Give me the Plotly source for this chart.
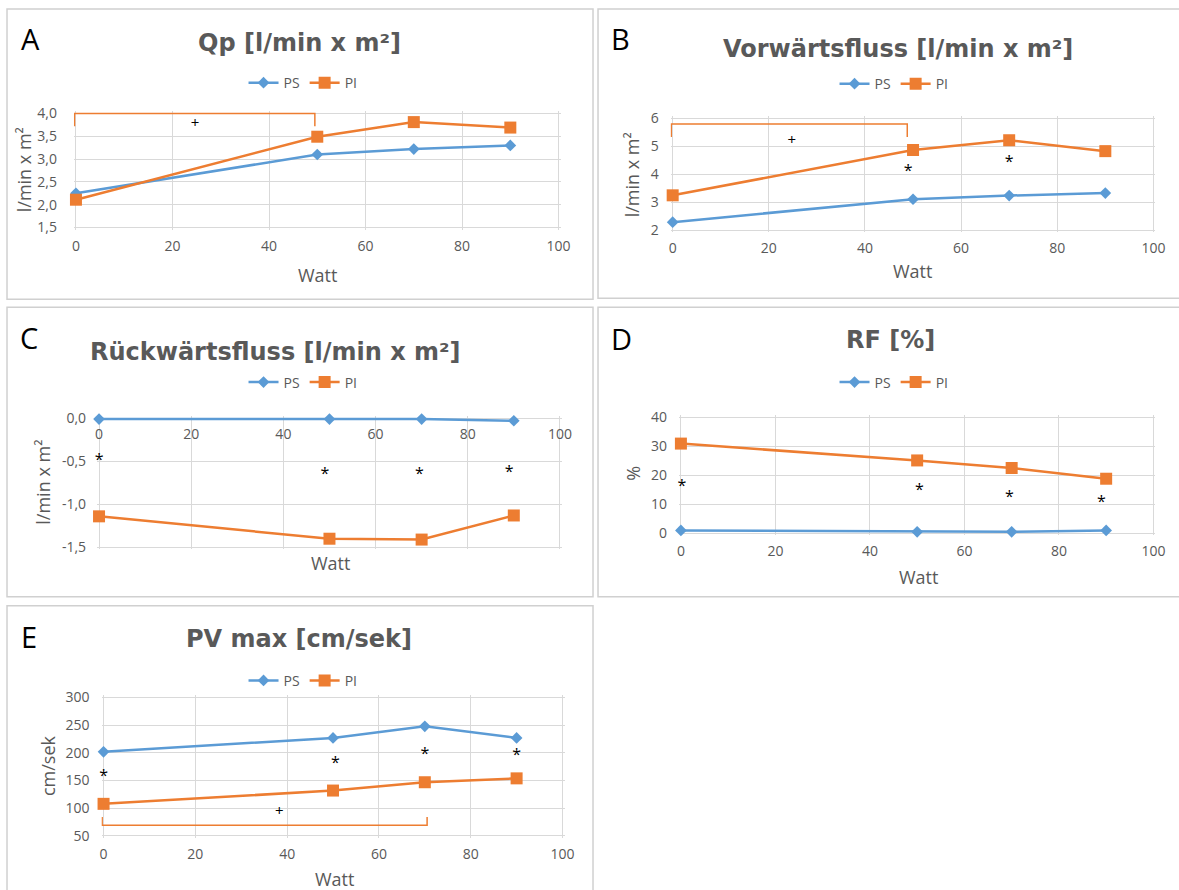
import plotly.graph_objects as go

# ---------------------------------------------------------------- data
WATT = [0, 50, 70, 90]

QP_PS = [2.25, 3.10, 3.22, 3.30]
QP_PI = [2.11, 3.49, 3.81, 3.69]

VF_PS = [2.29, 3.11, 3.24, 3.33]
VF_PI = [3.25, 4.87, 5.22, 4.83]

RUECK_PS = [-0.01, -0.01, -0.01, -0.03]
RUECK_PI = [-1.14, -1.40, -1.41, -1.13]

RF_PS = [1.0, 0.5, 0.5, 1.0]
RF_PI = [30.9, 25.1, 22.5, 18.8]

PV_PS = [202, 227, 248, 227]
PV_PI = [108, 132, 147, 154]

# significance marks (*): PS vs PI at the same load
VF_STAR_X = [49, 70]
VF_STAR_Y = [4.07, 4.39]
RUECK_STAR_X = [0, 49, 69.5, 89]
RUECK_STAR_Y = [-0.5, -0.655, -0.655, -0.636]
RF_STAR_X = [0.2, 50.5, 69.5, 89]
RF_STAR_Y = [15.9, 14.7, 12.2, 10.5]
PV_STAR_X = [0, 50.5, 70, 90]
PV_STAR_Y = [157, 180, 197, 194]

# brackets (+): load effect within PI -> [x_start, x_end], [bar level, foot level]
QP_BRACKET_X = [-0.3, 49.5]
QP_BRACKET_Y = [4.0, 3.72]
QP_PLUS = [24.7, 3.76]
VF_BRACKET_X = [-0.3, 48.8]
VF_BRACKET_Y = [5.80, 5.34]
VF_PLUS = [24.8, 5.2]
PV_BRACKET_X = [-0.3, 70.5]
PV_BRACKET_Y = [69.3, 84.3]
PV_PLUS = [38.3, 92]

QP_YTICKS = [1.5, 2.0, 2.5, 3.0, 3.5, 4.0]
VF_YTICKS = [2, 3, 4, 5, 6]
RUECK_YTICKS = [0.0, -0.5, -1.0, -1.5]
RF_YTICKS = [0, 10, 20, 30, 40]
PV_YTICKS = [50, 100, 150, 200, 250, 300]
X_TICKS = [0, 20, 40, 60, 80, 100]

# ---------------------------------------------------------------- geometry
# figure size, and how layout pixels (below) sit on the figure
W, H = 1195, 906
CX, CY = 4.0, 8.0
KX, KY = 0.9866, 0.9823

BLUE = "#5B9BD5"
ORANGE = "#ED7D31"
GRID = "#D9D9D9"
TXT = "#595959"
FONT = "Open Sans"
TITLE_FONT = "DejaVu Sans"
PAD = 2  # px of breathing room around each plot frame


def fx(px):
    return ((px - CX) / KX) / W


def fy(py):
    return 1 - ((py - CY) / KY) / H


def fmt_de(v, dec):
    return f"{v:.{dec}f}".replace(".", ",")


panels = [
    dict(letter="A", title="Qp [l/min x m²]", ytitle="l/min x m²",
         ps=QP_PS, pi=QP_PI, yticks=QP_YTICKS, ydec=1,
         box=(9, 9, 593, 299), plot=(77.7, 113.3, 558.7, 227.3),
         letter_xy=(32, 38), title_xy=(300, 43), legend_xy=(304, 83),
         ytitle_xy=(26, 170), xtitle_xy=(318, 275), ystand=18,
         stars=None, bracket=(QP_BRACKET_X, QP_BRACKET_Y, QP_PLUS)),
    dict(letter="B", title="Vorwärtsfluss [l/min x m²]", ytitle="l/min x m²",
         ps=VF_PS, pi=VF_PI, yticks=VF_YTICKS, ydec=0,
         box=(598, 9, 1178, 298), plot=(672.4, 118.3, 1151.5, 230),
         letter_xy=(620, 38), title_xy=(897, 49), legend_xy=(893, 84),
         ytitle_xy=(632, 175), xtitle_xy=(911, 271), ystand=13,
         stars=(VF_STAR_X, VF_STAR_Y), bracket=(VF_BRACKET_X, VF_BRACKET_Y, VF_PLUS)),
    dict(letter="C", title="Rückwärtsfluss [l/min x m²]", ytitle="l/min x m²",
         ps=RUECK_PS, pi=RUECK_PI, yticks=RUECK_YTICKS, ydec=1,
         box=(9, 307, 593, 596), plot=(100.7, 417.7, 560, 546.7),
         letter_xy=(31, 337), title_xy=(276, 352), legend_xy=(304, 382),
         ytitle_xy=(44, 482), xtitle_xy=(331, 562), ystand=12,
         stars=(RUECK_STAR_X, RUECK_STAR_Y), bracket=None),
    dict(letter="D", title="RF [%]", ytitle="%",
         ps=RF_PS, pi=RF_PI, yticks=RF_YTICKS, ydec=0,
         box=(598, 307, 1178, 596), plot=(680.6, 416.7, 1151.5, 532.7),
         letter_xy=(621, 338), title_xy=(889, 340), legend_xy=(893, 382),
         ytitle_xy=(632, 473), xtitle_xy=(917, 576), ystand=13,
         stars=(RF_STAR_X, RF_STAR_Y), bracket=None),
    dict(letter="E", title="PV max [cm/sek]", ytitle="cm/sek",
         ps=PV_PS, pi=PV_PI, yticks=PV_YTICKS, ydec=0,
         box=(9, 605, 593, 905), plot=(105.2, 696.7, 562.6, 835),
         letter_xy=(31, 636), title_xy=(300, 638), legend_xy=(304, 680),
         ytitle_xy=(50, 765), xtitle_xy=(335, 878), ystand=13,
         stars=(PV_STAR_X, PV_STAR_Y), bracket=(PV_BRACKET_X, PV_BRACKET_Y, PV_PLUS)),
]

fig = go.Figure()
annotations = []
shapes = []
layout = {}

for i, p in enumerate(panels, start=1):
    sfx = "" if i == 1 else str(i)
    xa, ya, leg = "x" + sfx, "y" + sfx, "legend" + sfx
    x0, y0, x1, y1 = p["plot"]
    yt = p["yticks"]
    ylo, yhi = min(yt), max(yt)
    # widen each axis by PAD pixels on every side so the frame gridlines
    # and brackets sitting on the frame are drawn whole
    ux = 100 / (x1 - x0)
    uy = (yhi - ylo) / (y1 - y0)
    xr = [0 - PAD * ux, 100 + PAD * ux]
    yr = [ylo - PAD * uy, yhi + PAD * uy]

    if p["bracket"] is not None:
        bx, by, plus = p["bracket"]
        fig.add_trace(go.Scatter(
            x=[bx[0], bx[0], bx[1], bx[1]], y=[by[1], by[0], by[0], by[1]],
            mode="lines", line=dict(color=ORANGE, width=1.5),
            xaxis=xa, yaxis=ya, showlegend=False, cliponaxis=False,
            hoverinfo="skip"))
        fig.add_trace(go.Scatter(
            x=[plus[0]], y=[plus[1]], mode="text", text=["+"],
            textfont=dict(family=FONT, size=15, color="black"),
            xaxis=xa, yaxis=ya, showlegend=False, cliponaxis=False,
            hoverinfo="skip"))

    fig.add_trace(go.Scatter(
        x=WATT, y=p["ps"], name="PS", mode="lines+markers",
        line=dict(color=BLUE, width=2.5),
        marker=dict(symbol="diamond", size=9, color=BLUE, line=dict(width=0)),
        xaxis=xa, yaxis=ya, legend=leg, cliponaxis=False))
    fig.add_trace(go.Scatter(
        x=WATT, y=p["pi"], name="PI", mode="lines+markers",
        line=dict(color=ORANGE, width=2.5),
        marker=dict(symbol="square", size=12, color=ORANGE, line=dict(width=0)),
        xaxis=xa, yaxis=ya, legend=leg, cliponaxis=False))

    if p["stars"] is not None:
        sx, sy = p["stars"]
        fig.add_trace(go.Scatter(
            x=sx, y=sy, mode="text", text=["*"] * len(sx),
            textfont=dict(family=FONT, size=16, color="black"),
            xaxis=xa, yaxis=ya, showlegend=False, cliponaxis=False,
            hoverinfo="skip"))

    xaxis = dict(
        domain=[fx(x0 - PAD), fx(x1 + PAD)], range=xr, tickvals=X_TICKS,
        showgrid=True, gridcolor=GRID, gridwidth=1, zeroline=False, showline=False,
        tickfont=dict(family=FONT, size=14, color=TXT), layer="below traces",
        ticks="", ticklabelstandoff=8 - PAD, fixedrange=True)
    if p["letter"] == "C":
        # the category axis crosses the value axis at 0 (top of the frame)
        xaxis.update(anchor="free", position=fy(y0), side="bottom")
    else:
        xaxis.update(anchor=ya)
    layout["xaxis" + sfx] = xaxis

    layout["yaxis" + sfx] = dict(
        domain=[fy(y1 + PAD), fy(y0 - PAD)], range=yr,
        tickvals=yt, ticktext=[fmt_de(v, p["ydec"]) for v in yt],
        anchor=xa, showgrid=True, gridcolor=GRID, gridwidth=1, zeroline=False,
        showline=False, layer="below traces",
        tickfont=dict(family=FONT, size=14, color=TXT),
        ticks="", ticklabelstandoff=p["ystand"] - PAD, fixedrange=True)

    lx, ly = p["legend_xy"]
    layout[leg] = dict(
        x=fx(lx), y=fy(ly), xanchor="center", yanchor="middle",
        orientation="h", bgcolor="rgba(0,0,0,0)",
        font=dict(family=FONT, size=14, color=TXT), itemwidth=30,
        tracegroupgap=0)

    bx0, by0, bx1, by1 = p["box"]
    shapes.append(dict(type="rect", xref="paper", yref="paper",
                       x0=fx(bx0), x1=fx(bx1), y0=fy(by1), y1=fy(by0),
                       line=dict(color="#D0D0D0", width=1.5), layer="below"))

    ax_, ay_ = p["letter_xy"]
    annotations.append(dict(text=p["letter"], x=fx(ax_), y=fy(ay_), xref="paper", yref="paper",
                            showarrow=False, xanchor="center", yanchor="middle",
                            font=dict(family=FONT, size=29, color="black")))
    tx, ty = p["title_xy"]
    annotations.append(dict(text="<b>" + p["title"] + "</b>", x=fx(tx), y=fy(ty),
                            xref="paper", yref="paper", showarrow=False,
                            xanchor="center", yanchor="middle",
                            font=dict(family=TITLE_FONT, size=24, color=TXT)))
    yx, yy = p["ytitle_xy"]
    annotations.append(dict(text=p["ytitle"], x=fx(yx), y=fy(yy), xref="paper", yref="paper",
                            showarrow=False, textangle=-90, xanchor="center", yanchor="middle",
                            font=dict(family=FONT, size=18, color=TXT)))
    wx, wy = p["xtitle_xy"]
    annotations.append(dict(text="Watt", x=fx(wx), y=fy(wy), xref="paper", yref="paper",
                            showarrow=False, xanchor="center", yanchor="middle",
                            font=dict(family=FONT, size=18, color=TXT)))

fig.update_layout(
    width=W, height=H, margin=dict(l=0, r=0, t=0, b=0),
    paper_bgcolor="white", plot_bgcolor="white",
    showlegend=True, annotations=annotations, shapes=shapes,
    hovermode=False, **layout)

fig.write_html("out.html")
